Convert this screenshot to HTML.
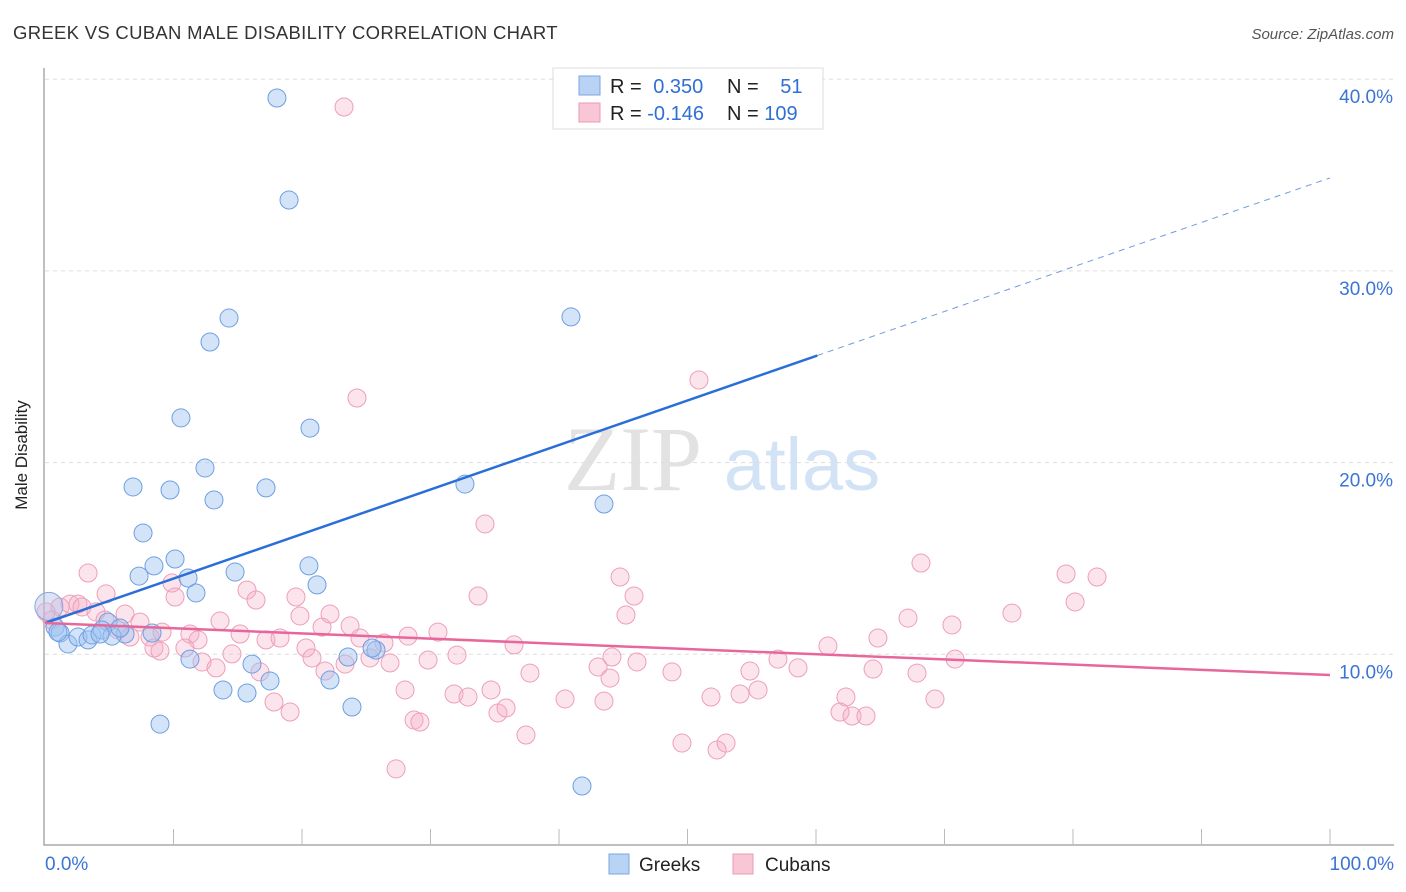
<!DOCTYPE html>
<html><head><meta charset="utf-8"><style>
body{margin:0;background:#fff;font-family:"Liberation Sans",sans-serif}
svg{display:block}
</style></head><body>
<svg id="c" width="1406" height="892" xmlns="http://www.w3.org/2000/svg">
<text x="13" y="39" font-size="18.5" fill="#333" letter-spacing="0.3">GREEK VS CUBAN MALE DISABILITY CORRELATION CHART</text>
<text x="1394" y="39" font-size="15" fill="#555" font-style="italic" text-anchor="end">Source: ZipAtlas.com</text>
<text x="27" y="455" font-size="17" fill="#222" transform="rotate(-90 27 455)" text-anchor="middle">Male Disability</text>
<g><text x="633" y="490" font-size="92" fill="#e2e2e2" font-family="Liberation Serif" text-anchor="middle">ZIP</text><text x="802" y="490" font-size="74" fill="#d3e3f6" text-anchor="middle">atlas</text></g>
<g id="grid"></g><g id="pts"></g><g id="lines"></g>
<g>
<rect x="553" y="68" width="270" height="61" fill="#fff" stroke="#ddd"/>
<rect x="579" y="76" width="21" height="19" fill="#b9d3f5" stroke="#7aa6e3"/>
<rect x="579" y="103" width="21" height="19" fill="#f9c6d5" stroke="#ec9ab4"/>
<text x="610" y="93" font-size="20" fill="#222">R = <tspan fill="#2f6fd6" dx="6">0.350</tspan></text>
<text x="727" y="93" font-size="20" fill="#222">N = <tspan fill="#2f6fd6" dx="16">51</tspan></text>
<text x="610" y="120" font-size="20" fill="#222">R = <tspan fill="#2f6fd6">-0.146</tspan></text>
<text x="727" y="120" font-size="20" fill="#222">N = <tspan fill="#2f6fd6">109</tspan></text>
</g>
<g>
<rect x="609" y="854" width="20" height="20" fill="#b9d3f5" stroke="#7aa6e3"/>
<text x="639" y="871" font-size="19" fill="#222">Greeks</text>
<rect x="733" y="854" width="20" height="20" fill="#f9c6d5" stroke="#ec9ab4"/>
<text x="765" y="871" font-size="19" fill="#222">Cubans</text>
</g>
</svg>
<script>
const yTicks=[10,20,30,40];
const yTickLabels=["10.0%","20.0%","30.0%","40.0%"];
const xTickLabels=["0.0%","100.0%"];
const greeksPx=[[277,98],[289,200],[229,318],[210,342],[571,317],[181,418],[310,428],[205,468],[133,487],[170,490],[214,500],[266,488],[465,484],[604,504],[143,533],[175,559],[154,566],[139,576],[188,578],[235,572],[309,566],[317,585],[196,593],[108,622],[125,634],[152,633],[55,627],[60,633],[68,644],[78,637],[88,640],[92,635],[102,630],[112,636],[120,628],[190,659],[252,664],[270,681],[330,680],[348,657],[376,650],[372,648],[223,690],[247,693],[352,707],[160,724],[582,786],[710,84],[58,632],[100,634]];
const cubansPx=[[344,107],[699,380],[357,398],[485,524],[88,573],[921,563],[620,577],[1066,574],[1097,577],[478,596],[634,596],[1075,602],[106,594],[172,583],[175,597],[247,590],[256,600],[296,597],[1012,613],[626,615],[908,618],[952,625],[60,607],[70,604],[78,604],[82,607],[96,612],[105,620],[125,614],[140,622],[118,630],[150,637],[162,632],[130,637],[154,648],[160,651],[190,634],[198,640],[185,648],[220,621],[240,634],[266,640],[280,638],[300,616],[322,627],[330,614],[350,626],[360,638],[384,643],[408,636],[438,632],[306,648],[312,658],[325,671],[370,658],[390,663],[428,660],[457,655],[514,645],[530,673],[612,657],[598,667],[610,678],[637,662],[672,672],[778,659],[750,671],[798,668],[828,646],[878,638],[873,669],[917,673],[955,659],[202,662],[216,668],[232,654],[260,672],[274,702],[290,712],[405,690],[414,720],[420,722],[454,694],[468,697],[491,690],[498,713],[506,708],[526,735],[565,699],[604,701],[711,697],[740,694],[758,690],[846,697],[840,712],[852,716],[866,716],[935,699],[396,769],[682,743],[717,750],[726,743],[345,664],[52,620],[46,612]];
const greeksX=greeksPx.map(p=>+((p[0]-45)/12.85).toFixed(2));
const greeksY=greeksPx.map(p=>+((846-p[1])/19.17).toFixed(2));
const cubansX=cubansPx.map(p=>+((p[0]-45)/12.85).toFixed(2));
const cubansY=cubansPx.map(p=>+((846-p[1])/19.17).toFixed(2));
const greekTrend=[11.63,34.85];
const cubanTrend=[11.63,8.92];
const X=v=>45+v*12.85, Y=v=>846-v*19.17;
const NS="http://www.w3.org/2000/svg";
function mk(t,a,p){const e=document.createElementNS(NS,t);for(const k in a)e.setAttribute(k,a[k]);p.appendChild(e);return e;}
const grid=document.getElementById('grid');
yTicks.forEach((t,i)=>{const l=mk('line',{x1:45,x2:1394,y1:Y(t),y2:Y(t),stroke:'#ddd','stroke-dasharray':'4,4'},grid);

const tx=mk('text',{x:1393,y:Y(t)+24,'font-size':19,fill:'#3b74d4','text-anchor':'end'},grid);tx.textContent=yTickLabels[i];
});
const ax=mk('path',{d:'M44 68V845H1394',fill:'none',stroke:'#aaa','stroke-width':1.5},grid);

for(let i=1;i<=10;i++){const t=mk('line',{x1:X(i*10),x2:X(i*10),y1:829,y2:845,stroke:'#bbb'},grid);
}
[[0,'start',45],[100,'end',1394]].forEach((d,i)=>{const tx=mk('text',{x:d[2],y:870,'font-size':19,fill:'#3b74d4','text-anchor':d[1]},grid);tx.textContent=xTickLabels[i];
});
const pts=document.getElementById('pts');
function draw(xs,ys,fill,stroke,name){xs.forEach((x,i)=>{const c=mk('circle',{cx:X(x),cy:Y(ys[i]),r:9,fill:fill,stroke:stroke,'stroke-width':1},pts);
});}
draw(cubansX,cubansY,'rgba(246,172,197,0.33)','#ee9fb8','cuban-point');
draw(greeksX,greeksY,'rgba(160,195,240,0.45)','#6e9fe2','greek-point');
const big=mk('circle',{cx:X(0.3),cy:Y(12.5),r:14,fill:'rgba(180,190,230,0.45)',stroke:'#8aa8e0'},pts);

const L=document.getElementById('lines');
const bx=60.1,by=greekTrend[0]+(greekTrend[1]-greekTrend[0])*bx/100;
const b1=mk('line',{x1:X(0),y1:Y(greekTrend[0]),x2:X(bx),y2:Y(by),stroke:'#2a6fd8','stroke-width':2.5},L);

const b2=mk('line',{x1:X(bx),y1:Y(by),x2:X(100),y2:Y(greekTrend[1]),stroke:'#6f9be0','stroke-width':1,'stroke-dasharray':'6,5'},L);

const p1=mk('line',{x1:X(0),y1:Y(cubanTrend[0]),x2:X(100),y2:Y(cubanTrend[1]),stroke:'#e8679a','stroke-width':2.5},L);

</script>
</body></html>
